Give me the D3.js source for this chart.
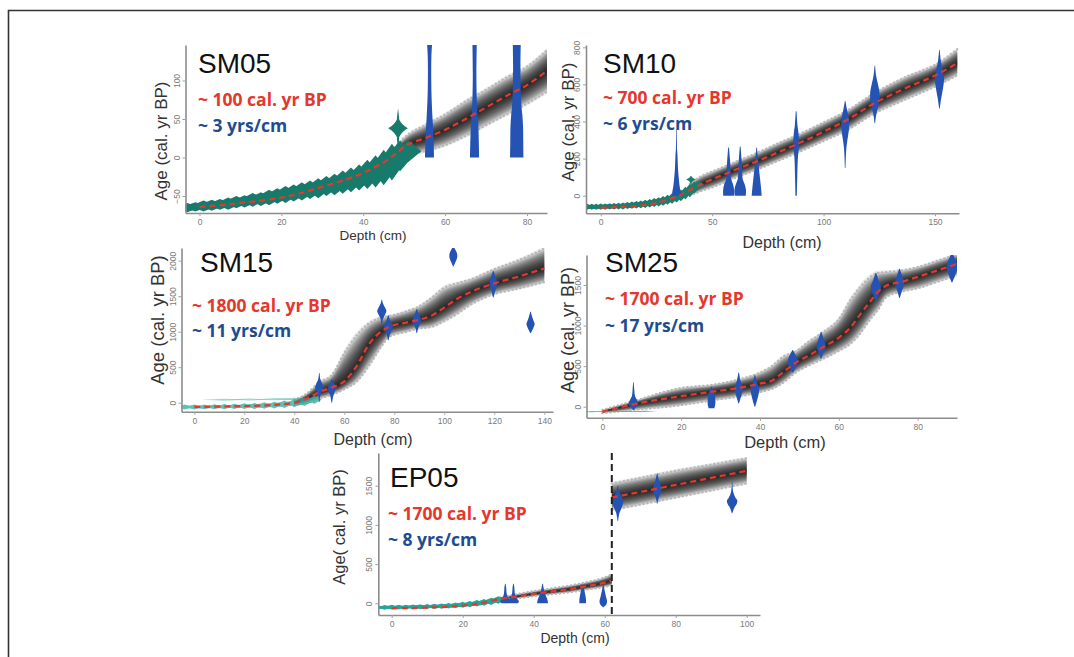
<!DOCTYPE html>
<html><head><meta charset="utf-8">
<script src="https://cdn.jsdelivr.net/npm/d3@7"></script>
<style>body{margin:0;background:#fff}svg{display:block}</style>
</head><body>
<script>
// ================= DATA =================
// ---- SM05 ----
const sm05Depth  = [0,5,10,15,20,25,30,35,40,43,46,48,50,55,60,65,70,75,80,85];
const sm05Median = [-64,-62,-59,-56,-52,-46,-38,-30,-20,-12,-3,5,14,25,36,50,65,80,94,113];
const sm05Lo     = [-72,-70,-67,-64,-61,-55,-48,-40,-30,-22,-13,-5,2,8,16,28,42,56,70,86];
const sm05Hi     = [-56,-54,-51,-48,-43,-37,-28,-20,-10,-2,7,15,26,42,56,73,88,104,118,140];
const sm05PbDepth = [-3,-1,1,3,5,7,9,11,13,15,17,19,21,23,25,27,29,31,33,35,37,39,41,43,45,47,49,51];
const sm05PbAge   = [-65,-64,-63,-62,-61,-60,-58,-57,-55,-54,-52,-50,-48,-46,-44,-42,-40,-37,-35,-32,-29,-26,-22,-18,-13,-6,2,8];
const sm05PbErr   = [6,6,7,7,7,8,8,8,9,9,10,10,11,11,12,12,13,13,14,15,16,17,19,21,23,24,20,14];
const sm05PeakDepth = 48.5, sm05PeakAge = 38, sm05PeakErr = 15, sm05PeakTop = 64;
const sm05DateDepth = [56.2, 67.2, 77.5];
const sm05DateProfile = [
  [[0,4.5],[30,3.9],[50,3],[75,2.1],[100,1.7],[130,1.8],[150,2.6]],
  [[0,4.6],[40,3.8],[60,2.7],[80,2.1],[110,1.8],[150,2.2]],
  [[0,6.7],[20,6.5],[40,6.3],[55,5.6],[65,4.8],[80,4.2],[100,3.8],[120,3.7],[150,4]]
];
const sm05XTicks = [0,20,40,60,80];
const sm05YTicks = [-50,0,50,100];

// ---- SM10 ----
const sm10Depth  = [0,10,20,30,35,40,45,50,60,70,80,87,100,110,123,135,152,160];
const sm10Median = [-65,-60,-50,-22,0,30,62,88,138,185,236,272,345,405,500,570,660,715];
const sm10Lo     = [-75,-70,-62,-40,-25,0,25,45,95,140,190,225,295,350,445,510,600,650];
const sm10Hi     = [-55,-50,-38,-5,25,65,105,130,180,230,285,320,395,455,555,630,720,790];
const sm10PbDepth = [-6,-4,-2,0,2,4,6,8,10,12,14,16,18,20,22,24,26,28,30,32,34,36,38,40,42,44];
const sm10PbAge   = [-60,-60,-60,-59,-59,-58,-57,-56,-55,-53,-51,-49,-47,-44,-41,-37,-33,-28,-22,-15,-7,2,14,28,44,58];
const sm10PbErr   = [16,16,16,17,17,17,18,18,19,19,20,20,21,22,23,24,25,26,27,28,30,32,34,36,32,22];
const sm10PeakDepth = 40.5, sm10PeakAge = 88, sm10PeakErr = 20, sm10PeakTop = 102;
const sm10DateDepth = [34, 57.4, 62.6, 70, 87.7, 109.7, 123, 152];
const sm10DateProfile = [
  [[0,4.5],[20,4.2],[50,3.2],[100,2.2],[150,1.5],[220,1],[250,0.6],[300,0.4],[355,0.3]],
  [[0,5.3],[30,5.5],[60,4.5],[80,3],[100,2.2],[150,1.9],[200,1.3],[260,0.4]],
  [[0,5.5],[30,5.8],[60,4.5],[80,3],[100,2.2],[150,1.9],[200,1.3],[265,0.4]],
  [[0,5],[50,4.2],[100,3.2],[150,2.2],[200,1.3],[260,0.3]],
  [[0,0.7],[100,1.1],[200,1.7],[260,2.6],[300,2.8],[340,2.3],[380,1.3],[455,0.4]],
  [[150,0.3],[250,1.1],[300,2.2],[350,3.6],[400,4],[430,3.2],[470,1.6],[510,0.3]],
  [[390,0.3],[430,1.2],[480,3.2],[520,4.6],[560,4.6],[600,3.2],[650,1.2],[700,0.3]],
  [[470,0.3],[520,1.6],[580,3.6],[630,4.6],[670,3.6],[720,1.6],[785,0.3]]
];
const sm10XTicks = [0,50,100,150];
const sm10YTicks = [0,200,400,600,800];

// ---- SM15 ----
const sm15Depth  = [0,10,20,30,40,45,50,55,60,65,70,75,78,85,89,95,100,105,110,120,130,140];
const sm15Median = [-60,-55,-48,-35,0,60,150,215,300,520,830,1010,1070,1130,1160,1230,1340,1460,1550,1680,1780,1890];
const sm15Lo     = [-75,-70,-65,-55,-40,0,60,110,190,300,530,800,930,1000,1040,1070,1150,1250,1370,1530,1610,1700];
const sm15Hi     = [-45,-40,-30,-15,40,130,290,390,700,950,1120,1200,1220,1290,1340,1480,1620,1680,1730,1880,2010,2170];
const sm15PbDepth = [-4,0,4,8,12,16,20,24,28,32,36,40,44,48];
const sm15PbAge   = [-62,-61,-59,-57,-55,-52,-49,-45,-40,-33,-22,-5,15,40];
const sm15PbErr   = [35,35,35,36,36,38,40,42,45,48,52,56,60,55];
const sm15StreakDepth = [12, 22, 32, 40];
const sm15StreakAge   = [40, 44, 47, 52];
const sm15StreakErr   = [14, 14, 14, 16];
const sm15DateDepth = [50, 55, 75, 77.6, 89, 103.6, 119.6, 134.5];
const sm15DateProfile = [
  [[10,0.3],[120,1.2],[180,3.2],[220,4.2],[260,3.2],[330,1.1],[420,0.3]],
  [[0,0.3],[100,1.6],[160,3.2],[200,3.8],[250,3.1],[300,1.1],[330,0.3]],
  [[1100,0.3],[1180,1.2],[1240,3.2],[1290,4.6],[1340,3.2],[1400,1.1],[1450,0.3]],
  [[880,0.3],[960,1.6],[1030,3.6],[1070,4.6],[1110,3.6],[1170,1.6],[1230,0.3]],
  [[980,0.3],[1060,1.6],[1120,3.6],[1160,4.2],[1200,3.6],[1260,1.6],[1320,0.3]],
  [[1920,0.3],[1980,2.2],[2030,3.6],[2070,4],[2110,3.6],[2150,2.2],[2200,0.3]],
  [[1480,0.3],[1560,1.6],[1630,3.2],[1680,3.7],[1730,3.2],[1800,1.6],[1860,0.3]],
  [[980,0.3],[1030,2.1],[1080,3.6],[1110,4.1],[1150,3.1],[1210,1.6],[1280,0.3]]
];
const sm15XTicks = [0,20,40,60,80,100,120,140];
const sm15YTicks = [0,500,1000,1500,2000];

// ---- SM25 ----
const sm25Depth  = [0,8,20,28,35,40,43,46,49,52,56,60,63,65,68,70,72,76,80,85,90];
const sm25Median = [-62,30,130,185,235,285,320,430,540,620,735,850,980,1110,1300,1420,1490,1540,1600,1680,1760];
const sm25Lo     = [-80,-40,20,80,130,180,220,300,420,500,590,690,780,880,1080,1200,1350,1420,1460,1540,1620];
const sm25Hi     = [-40,70,230,270,340,420,500,620,680,790,920,1080,1320,1450,1600,1650,1660,1680,1720,1800,1880];
const sm25PbDepth = [-3,0,3,6,9,11];
const sm25PbAge   = [-62,-61,-60,-59,-57,-56];
const sm25PbErr   = [5,5,5,5,5,5];
const sm25DateDepth = [7.9, 27.7, 34.6, 38.7, 48.3, 55.5, 69.4, 75.4, 88.7];
const sm25DateProfile = [
  [[-40,0.3],[0,2.8],[40,4.8],[80,3.6],[130,1.6],[200,0.9],[300,0.3]],
  [[-20,2.8],[30,3.8],[100,3.8],[160,3.2],[200,1.6],[250,0.3]],
  [[40,0.3],[120,2.2],[190,3.8],[230,4.3],[270,3.2],[330,1.6],[420,0.3]],
  [[0,0.3],[80,2.2],[160,3.8],[210,4.3],[260,3.2],[320,1.6],[390,0.3]],
  [[420,0.3],[480,2.8],[540,4.8],[580,4.8],[630,3.2],[700,0.3]],
  [[590,0.3],[660,2.2],[720,4.3],[770,4.3],[830,2.7],[920,0.3]],
  [[1300,0.3],[1380,2.8],[1440,4.8],[1500,4.8],[1560,2.7],[1650,0.3]],
  [[1340,0.3],[1420,2.2],[1500,4.3],[1550,4.3],[1610,2.7],[1700,0.3]],
  [[1530,0.3],[1620,3.2],[1700,5.2],[1760,5.2],[1820,3.2],[1900,0.3]]
];
const sm25XTicks = [0,20,40,60,80];
const sm25YTicks = [0,500,1000,1500];

// ---- EP05 ----
const ep05DepthA  = [0,10,20,25,30,35,40,45,50,55,60,62];
const ep05MedianA = [-64,-55,-31,0,50,85,119,150,178,220,263,290];
const ep05LoA     = [-70,-62,-40,-15,30,60,90,115,140,175,210,230];
const ep05HiA     = [-55,-45,-20,15,70,115,155,190,225,270,330,370];
const ep05DepthB  = [62,70,80,90,100];
const ep05MedianB = [1350,1420,1510,1600,1690];
const ep05LoB     = [1190,1260,1350,1440,1530];
const ep05HiB     = [1530,1600,1690,1770,1850];
const ep05BreakDepth = 62;
const ep05PbDepth = [-4,-2,0,2,4,6,8,10,12,14,16,18,20,22,24,26,28,30,32];
const ep05PbAge   = [-52,-51,-50,-49,-48,-46,-44,-42,-39,-35,-31,-25,-18,-10,0,12,25,42,58];
const ep05PbErr   = [30,30,30,30,30,31,31,32,33,34,35,36,38,40,42,44,46,48,38];
const ep05DateDepth = [32, 34.3, 42.5, 53.8, 59.6, 63.7, 74.8, 95.9];
const ep05DateProfile = [
  [[0,4],[25,5],[50,4],[90,2],[140,1.2],[200,0.9],[250,0.3]],
  [[0,4.5],[25,5.5],[50,4.2],[90,2],[140,1.2],[200,0.9],[250,0.3]],
  [[0,5.5],[40,5],[80,3.8],[130,2.2],[180,1.3],[250,0.3]],
  [[0,3.3],[50,3.3],[100,2.7],[150,1.9],[200,1.1],[240,0.3]],
  [[-50,0.3],[-20,2.8],[20,3.8],[60,3.2],[120,2.1],[180,1.1],[240,0.3]],
  [[1050,0.3],[1150,1.6],[1230,4.2],[1290,5.2],[1350,4.2],[1420,1.6],[1500,0.3]],
  [[1270,0.3],[1350,1.6],[1410,3.6],[1460,4.2],[1510,3.2],[1580,1.6],[1660,0.3]],
  [[1150,0.3],[1220,2.2],[1270,4.6],[1310,5.2],[1350,3.2],[1420,1.1],[1550,0.3]]
];
const ep05XTicks = [0,20,40,60,80,100];
const ep05YTicks = [0,500,1000,1500];

// ================= LAYOUT / DRAW =================
const W = 1074, H = 657;
const SANS = "'Liberation Sans', Arial, sans-serif";
const BOLD = "'Open Sans', 'Liberation Sans', sans-serif";
const RED = "#e5372c", NAVY = "#1e4c92", VBLUE = "#2453b4";

const svg = d3.select("body").append("svg").attr("width", W).attr("height", H);
svg.append("rect").attr("width", W).attr("height", H).attr("fill", "#fff");
svg.append("path").attr("d", "M8.5,657 L8.5,10.5 L1074,10.5").attr("fill", "none")
  .attr("stroke", "#333").attr("stroke-width", 1.6);

const panels = [
  { id: "sm05", title: "SM05", red: "~ 100 cal. yr BP", blue: "~ 3 yrs/cm", ylab: "Age (cal. yr BP)",
    box: {l:185.5, r:547, t:45, b:213}, xc: [0,80,199.5,527], yc: [0,100,157.5,80.5],
    segs: [{depth: sm05Depth, med: sm05Median, lo: sm05Lo, hi: sm05Hi, start: 46}],
    pb: {depth: sm05PbDepth, age: sm05PbAge, err: sm05PbErr}, pbL: 3.2, teal: "#177a6b", tealOp: 1,
    peak: {depth: sm05PeakDepth, age: sm05PeakAge, err: sm05PeakErr, top: sm05PeakTop, hw: 2.4},
    dates: {depth: sm05DateDepth, prof: sm05DateProfile}, xt: sm05XTicks, yt: sm05YTicks,
    titlePos: [198, 73], redPos: [198, 106], bluePos: [198, 131.5],
    ylabPos: [167, 141], ylabSize: 17, xlabPos: [373, 240], xlabSize: 13.5 },
  { id: "sm10", title: "SM10", red: "~ 700 cal. yr BP", blue: "~ 6 yrs/cm", ylab: "Age (cal. yr BP)",
    box: {l:586, r:959, t:45, b:213.3}, xc: [0,150,600.7,935], yc: [0,800,195.7,47.3],
    segs: [{depth: sm10Depth, med: sm10Median, lo: sm10Lo, hi: sm10Hi, start: 38}],
    pb: {depth: sm10PbDepth, age: sm10PbAge, err: sm10PbErr}, pbL: 2.5, teal: "#1a7e6e", tealOp: 1,
    peak: {depth: sm10PeakDepth, age: sm10PeakAge, err: sm10PeakErr, top: sm10PeakTop, hw: 2.2},
    dates: {depth: sm10DateDepth, prof: sm10DateProfile}, xt: sm10XTicks, yt: sm10YTicks,
    titlePos: [603, 72.5], redPos: [603, 104], bluePos: [603, 130],
    ylabPos: [574, 122], ylabSize: 17, xlabPos: [782, 248], xlabSize: 16 },
  { id: "sm15", title: "SM15", red: "~ 1800 cal. yr BP", blue: "~ 11 yrs/cm", ylab: "Age (cal. yr BP)",
    box: {l:181.5, r:553, t:248, b:411.7}, xc: [0,140,194.3,544.3], yc: [0,2000,402.7,260.7],
    segs: [{depth: sm15Depth, med: sm15Median, lo: sm15Lo, hi: sm15Hi, start: 40}],
    pb: {depth: sm15PbDepth, age: sm15PbAge, err: sm15PbErr}, pbL: 3, teal: "#36b0a0", tealOp: 0.8,
    streak: {depth: sm15StreakDepth, age: sm15StreakAge, err: sm15StreakErr}, streakL: 9,
    peak: null,
    dates: {depth: sm15DateDepth, prof: sm15DateProfile}, xt: sm15XTicks, yt: sm15YTicks,
    titlePos: [200, 271.5], redPos: [192, 311.5], bluePos: [192, 336.5],
    ylabPos: [164, 320], ylabSize: 18.5, xlabPos: [373, 445], xlabSize: 16 },
  { id: "sm25", title: "SM25", red: "~ 1700 cal. yr BP", blue: "~ 17 yrs/cm", ylab: "Age (cal. yr BP)",
    box: {l:586.5, r:957, t:255, b:417.7}, xc: [0,80,602.3,917.7], yc: [0,1500,406.7,285],
    segs: [{depth: sm25Depth, med: sm25Median, lo: sm25Lo, hi: sm25Hi, start: 0}],
    pb: {depth: sm25PbDepth, age: sm25PbAge, err: sm25PbErr}, pbL: 3, teal: "#38c0b0", tealOp: 1,
    peak: null,
    dates: {depth: sm25DateDepth, prof: sm25DateProfile}, xt: sm25XTicks, yt: sm25YTicks,
    titlePos: [605, 271.5], redPos: [605, 305], bluePos: [605, 331.5],
    ylabPos: [574, 330], ylabSize: 18, xlabPos: [785, 448], xlabSize: 16.5 },
  { id: "ep05", title: "EP05", red: "~ 1700 cal. yr BP", blue: "~ 8 yrs/cm", ylab: "Age( cal. yr BP)",
    box: {l:378.3, r:760, t:453, b:615}, xc: [0,100,391.7,746.7], yc: [0,1500,603.3,485.7],
    segs: [{depth: ep05DepthA, med: ep05MedianA, lo: ep05LoA, hi: ep05HiA, start: 24},
           {depth: ep05DepthB, med: ep05MedianB, lo: ep05LoB, hi: ep05HiB, start: 62}],
    pb: {depth: ep05PbDepth, age: ep05PbAge, err: ep05PbErr}, pbL: 2, teal: "#27a594", tealOp: 1,
    peak: null, brk: ep05BreakDepth,
    dates: {depth: ep05DateDepth, prof: ep05DateProfile}, xt: ep05XTicks, yt: ep05YTicks,
    titlePos: [390, 486.5], redPos: [388, 520], bluePos: [388, 546],
    ylabPos: [345, 527], ylabSize: 16.5, xlabPos: [575, 643], xlabSize: 14 }
];

const defs = svg.append("defs");

panels.forEach(p => {
  const g = svg.append("g");
  const x = d3.scaleLinear().domain([p.xc[0], p.xc[1]]).range([p.xc[2], p.xc[3]]);
  x.domain([x.invert(p.box.l), x.invert(p.box.r)]).range([p.box.l, p.box.r]);
  const y = d3.scaleLinear().domain([p.yc[0], p.yc[1]]).range([p.yc[2], p.yc[3]]);
  y.domain([y.invert(p.box.b), y.invert(p.box.t)]).range([p.box.b, p.box.t]);

  defs.append("clipPath").attr("id", "clip-" + p.id).append("rect")
    .attr("x", p.box.l).attr("y", p.box.t).attr("width", p.box.r - p.box.l).attr("height", p.box.b - p.box.t);
  const plot = g.append("g").attr("clip-path", `url(#clip-${p.id})`);

  // envelope (grey density)
  const segPts = p.segs.map(s => s.depth.map((d, i) => ({d, m: s.med[i], lo: s.lo[i], hi: s.hi[i]})));
  p.segs.forEach((s, si) => {
    const pts = segPts[si].filter(v => v.d >= s.start);
    const band = f => d3.area().curve(d3.curveMonotoneX)
      .x(v => x(v.d)).y0(v => y(v.m - f * (v.m - v.lo))).y1(v => y(v.m + f * (v.hi - v.m)));
    plot.append("path").datum(pts).attr("d", band(1.12)).attr("fill", "#000").attr("opacity", 0.07);
    for (let k = 10; k >= 1; k--) {
      plot.append("path").datum(pts).attr("d", band(k / 10)).attr("fill", "#000").attr("opacity", 0.15);
    }
    ["lo", "hi"].forEach(key => {
      plot.append("path").datum(pts)
        .attr("d", d3.line().curve(d3.curveMonotoneX).x(v => x(v.d)).y(v => y(v[key])))
        .attr("fill", "none").attr("stroke", "#b8b8b8").attr("stroke-width", 2.2)
        .attr("stroke-dasharray", "0.5,3.5").attr("stroke-linecap", "round");
    });
  });

  // 210Pb (teal): continuous core + serrated spindles
  const tg = plot.append("g").attr("fill", p.teal).attr("opacity", p.tealOp);
  const pbPts = p.pb.depth.map((d, i) => ({d, a: p.pb.age[i], e: p.pb.err[i]}));
  tg.append("path").datum(pbPts).attr("d", d3.area().curve(d3.curveMonotoneX)
    .x(v => x(v.d)).y0(v => y(v.a - 0.6 * v.e)).y1(v => y(v.a + 0.6 * v.e)));
  const spindle = (d, a, e, L) =>
    `M${x(d - L)},${y(a)} L${x(d)},${y(a + e)} L${x(d + L)},${y(a)} L${x(d)},${y(a - e)} Z`;
  pbPts.forEach(v => tg.append("path").attr("d", spindle(v.d, v.a, v.e, p.pbL)));
  if (p.streak) {
    p.streak.depth.forEach((d, i) => tg.append("path")
      .attr("d", spindle(d, p.streak.age[i], p.streak.err[i], p.streakL)).attr("opacity", 0.6));
  }
  if (p.peak) {
    const k = p.peak, cx = x(k.depth), cy = y(k.age);
    const lx = x(k.depth - k.hw), rx = x(k.depth + k.hw), ty = y(k.age + k.err), by = y(k.age - k.err);
    const hw = rx - cx, eh = by - cy;
    tg.append("path").attr("d",
      `M${lx},${cy} Q${cx - hw * 0.3},${cy - eh * 0.3} ${cx},${ty} Q${cx + hw * 0.3},${cy - eh * 0.3} ${rx},${cy}` +
      ` Q${cx + hw * 0.3},${cy + eh * 0.3} ${cx},${by} Q${cx - hw * 0.3},${cy + eh * 0.3} ${lx},${cy} Z`);
    tg.append("path").attr("d",
      `M${cx - 1.2},${ty + 2} L${cx},${y(k.top)} L${cx + 1.2},${ty + 2} Z`);
    tg.append("path").attr("d",
      `M${cx - 1.2},${by - 2} L${cx},${y(k.age - k.err - 14)} L${cx + 1.2},${by - 2} Z`);
  }

  // calibrated dates (blue violins)
  p.dates.depth.forEach((d, i) => {
    const prof = p.dates.prof[i];
    const area = d3.area().curve(d3.curveCatmullRom)
      .y(q => y(q[0])).x0(q => x(d) - q[1]).x1(q => x(d) + q[1]);
    plot.append("path").attr("d", area(prof)).attr("fill", VBLUE);
  });

  // median (red dashed)
  segPts.forEach(pts => {
    plot.append("path").datum(pts)
      .attr("d", d3.line().curve(d3.curveMonotoneX).x(v => x(v.d)).y(v => y(v.m)))
      .attr("fill", "none").attr("stroke", RED).attr("stroke-width", 2.2).attr("stroke-dasharray", "6,4");
  });

  // hiatus line
  if (p.brk !== undefined) {
    g.append("line").attr("x1", x(p.brk)).attr("x2", x(p.brk)).attr("y1", p.box.t).attr("y2", p.box.b)
      .attr("stroke", "#222").attr("stroke-width", 2).attr("stroke-dasharray", "7,4");
  }

  // axes
  const xa = g.append("g").attr("transform", `translate(0,${p.box.b})`)
    .call(d3.axisBottom(x).tickValues(p.xt).tickSize(3).tickSizeOuter(0).tickPadding(3).tickFormat(d3.format("d")));
  const ya = g.append("g").attr("transform", `translate(${p.box.l},0)`)
    .call(d3.axisLeft(y).tickValues(p.yt).tickSize(3).tickSizeOuter(0).tickFormat(d3.format("d")));
  [xa, ya].forEach(a => {
    a.select(".domain").attr("stroke", "#8c8c8c").attr("stroke-width", 1.6);
    a.selectAll(".tick line").attr("stroke", "#a0a0a0");
    a.selectAll("text").attr("font-family", SANS).attr("font-size", 8.5).attr("fill", "#7a7a7a");
  });
  ya.selectAll("text").attr("x", 0).attr("y", 0).attr("dy", 0)
    .attr("text-anchor", "middle").attr("transform", "translate(-6,0) rotate(-90)");

  // labels
  g.append("text").attr("x", p.xlabPos[0]).attr("y", p.xlabPos[1]).attr("text-anchor", "middle")
    .attr("font-family", SANS).attr("font-size", p.xlabSize).attr("fill", "#333").text("Depth (cm)");
  g.append("text").attr("text-anchor", "middle")
    .attr("transform", `translate(${p.ylabPos[0]},${p.ylabPos[1]}) rotate(-90)`)
    .attr("font-family", SANS).attr("font-size", p.ylabSize).attr("fill", "#333").text(p.ylab);
  g.append("text").attr("x", p.titlePos[0]).attr("y", p.titlePos[1])
    .attr("font-family", SANS).attr("font-size", 28).attr("fill", "#111").text(p.title);
  g.append("text").attr("x", p.redPos[0]).attr("y", p.redPos[1])
    .attr("font-family", BOLD).attr("font-weight", 700).attr("font-size", 17.5).attr("fill", RED).text(p.red);
  g.append("text").attr("x", p.bluePos[0]).attr("y", p.bluePos[1])
    .attr("font-family", BOLD).attr("font-weight", 700).attr("font-size", 17.5).attr("fill", NAVY).text(p.blue);
});
</script>
</body></html>
